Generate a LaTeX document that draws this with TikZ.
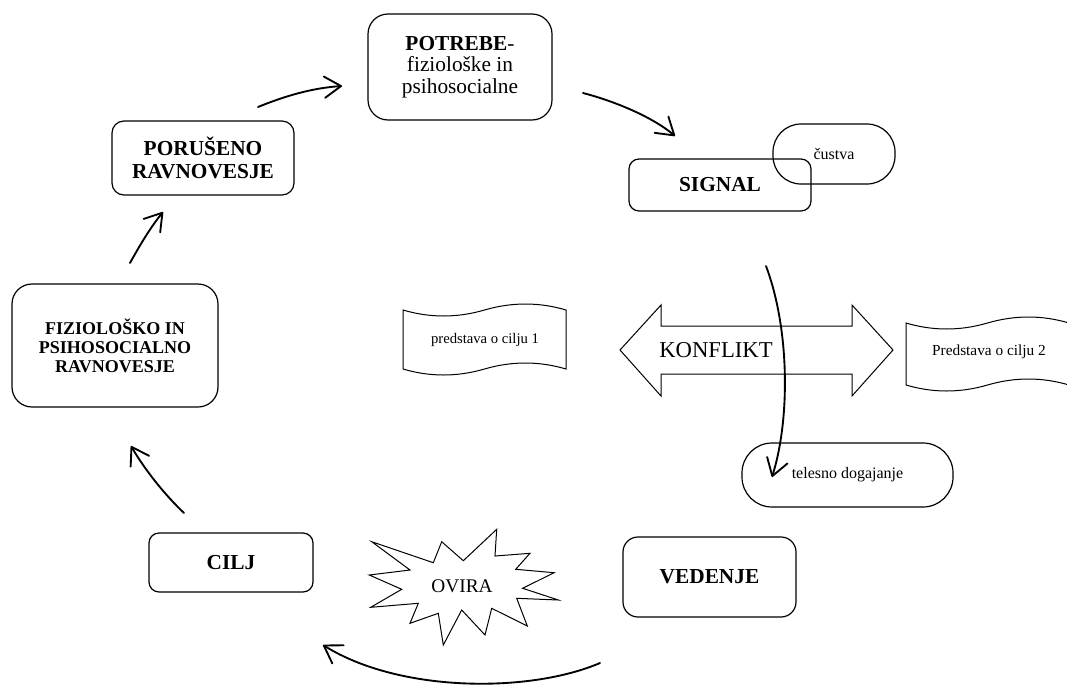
\documentclass[tikz,border=0pt]{standalone}
\usepackage{fontspec}
\setmainfont{Liberation Serif}
\usetikzlibrary{arrows.meta}
\newcommand\setfs[2]{\fontsize{#1}{#2}\selectfont}
\begin{document}
\begin{tikzpicture}[x=0.75pt,y=-0.75pt,
  box/.style={draw, line width=0.9pt, rounded corners=#1, align=center, inner sep=0pt},
  box/.default=8pt,
  label/.style={inner sep=0pt, align=center},
  thin line/.style={draw, line width=0.75pt, line join=miter},
  flow/.style={line width=1.4pt, line cap=round, -{Straight Barb[length=12.5pt,width=16pt,line cap=round,line join=round]}}]
\useasboundingbox (0,0) rectangle (1067,689);
\fill[white] (0,0) rectangle (1067,689);

% --- cycle boxes ---
\node[box=15pt, minimum width=138pt, minimum height=79.5pt, font=\setfs{16}{16.3}] (potrebe) at (460,67)
  {\textbf{POTREBE}-\\fiziološke in\\psihosocialne};
\node[box=9pt, minimum width=136.5pt, minimum height=55.5pt, font=\setfs{16}{17.3}\bfseries] (porus) at (203,158)
  {PORUŠENO\\RAVNOVESJE};
\node[box=15pt, minimum width=154.5pt, minimum height=92.25pt, font=\setfs{13.5}{14.3}\bfseries] (fizio) at (115,345.5)
  {FIZIOLOŠKO IN\\PSIHOSOCIALNO\\RAVNOVESJE};
\node[box=7.5pt, minimum width=123pt, minimum height=44.25pt, font=\setfs{16}{18}\bfseries] (cilj) at (231,562.5) {CILJ};
\node[box=11.25pt, minimum width=129.75pt, minimum height=60pt, font=\setfs{16}{18}\bfseries] (vedenje) at (709.5,577) {VEDENJE};
\node[box=7.5pt, minimum width=136.5pt, minimum height=39pt, font=\setfs{16}{18}\bfseries] (signal) at (720,185) {SIGNAL};
\node[box=21pt, minimum width=91.5pt, minimum height=45pt, font=\setfs{12}{14}] (custva) at (834,154) {čustva};
\node[box=22.5pt, minimum width=158.25pt, minimum height=48pt, font=\setfs{12}{14}] (telesno) at (847.5,475) {telesno dogajanje};

% --- punched-tape shapes with goal images ---
\path[thin line] (403,310) .. controls (430,318) and (457,318) .. (484.5,310)
  .. controls (512,302) and (539,302) .. (566,310) -- (566,369)
  .. controls (539,361) and (512,361) .. (484.5,369)
  .. controls (457,377) and (430,377) .. (403,369) -- cycle;
\node[label, font=\setfs{11}{13}] (cilj1) at (485,340) {predstava o cilju 1};

\path[thin line] (906,323) .. controls (933,331) and (960,331) .. (987.5,323)
  .. controls (1015,315) and (1042,315) .. (1069,323) -- (1069,385)
  .. controls (1042,377) and (1015,377) .. (987.5,385)
  .. controls (960,393) and (933,393) .. (906,385) -- cycle;
\node[label, font=\setfs{11.5}{13}] (cilj2) at (989,352) {Predstava o cilju 2};

% --- double arrow of the conflict ---
\path[thin line] (620,350) -- (661,305) -- (661,326) -- (852,326) -- (852,305) -- (893,350)
  -- (852,396) -- (852,374) -- (661,374) -- (661,396) -- cycle;
\node[label, font=\setfs{17}{19}] (konflikt) at (716,350) {KONFLIKT};

% --- obstacle burst ---
\path[thin line] (371.7,541.7) -- (433.3,562.7) -- (441.7,541.7) -- (463.3,560.7) -- (496.7,529.3)
  -- (495,556) -- (530,553.3) -- (515.7,569.3) -- (554,572.7) -- (522.7,588.3) -- (558.3,600)
  -- (516.7,598.3) -- (527.3,626) -- (491.7,608.3) -- (485,635) -- (461.7,610) -- (443.3,645)
  -- (438.3,613.3) -- (410,623.3) -- (418.3,603.3) -- (370.7,607.3) -- (401.7,589.3)
  -- (369.3,575) -- (410,570) -- cycle;
\node[label, font=\setfs{14.5}{16}] (ovira) at (462,586) {OVIRA};

% --- connector end points ---
\coordinate (a1s) at (258,107); \coordinate (a1e) at (342,86);
\coordinate (a2s) at (583,93);  \coordinate (a2e) at (675,136);
\coordinate (a3s) at (766,266); \coordinate (a3e) at (772,477);
\coordinate (a4s) at (600,663); \coordinate (a4e) at (323,645);
\coordinate (a5s) at (184,513); \coordinate (a5e) at (131,446);
\coordinate (a6s) at (130,263); \coordinate (a6e) at (163,212);

% --- curved cycle arrows ---
\draw[flow] (a1s) .. controls (285,96) and (312,88) .. (a1e);
\draw[flow] (a2s) .. controls (610,100) and (650,115) .. (a2e);
\draw[flow] (a3s) .. controls (790,330) and (790,420) .. (a3e);
\draw[flow] (a4s) .. controls (530,693) and (400,693) .. (a4e);
\draw[flow] (a5s) .. controls (165,495) and (145,470) .. (a5e);
\draw[flow] (a6s) .. controls (140,245) and (150,228) .. (a6e);
\end{tikzpicture}
\end{document}
